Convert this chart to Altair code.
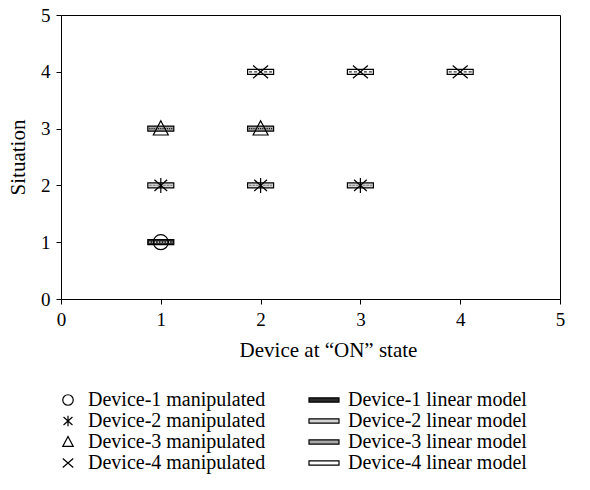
import altair as alt
import pandas as pd

# ---- data ----
man_x = [1, 1, 2, 3, 1, 2, 2, 3, 4]
man_y = [1, 2, 2, 2, 3, 3, 4, 4, 4]
man_device = [1, 2, 2, 2, 3, 3, 4, 4, 4]

manip_names = ["Device-1 manipulated", "Device-2 manipulated",
               "Device-3 manipulated", "Device-4 manipulated"]
model_names = ["Device-1 linear model", "Device-2 linear model",
               "Device-3 linear model", "Device-4 linear model"]

x_ticks = [0, 1, 2, 3, 4, 5]
y_ticks = [0, 1, 2, 3, 4, 5]

# ---- styles ----
shape_paths = [
    "circle",
    "M0,-1L0,1M-0.85,-0.75L0.85,0.75M-0.85,0.75L0.85,-0.75",
    "M0,-1.05L1,0.85L-1,0.85Z",
    "M-1,-0.85L1,0.85M-1,0.85L1,-0.85",
]
model_fills = ["#2a2a2a", "#d4d4d4", "#a8a8a8", "#ffffff"]
pattern_colors = ["#ffffff", "#8a8a8a", "#000000", "#333333"]
pattern_dashes = [[1.2, 1.6], [2.5, 1], [1, 1.2], [3, 2]]
pattern_widths = [1.3, 1.2, 3.2, 1.2]

df = pd.DataFrame({
    "x": man_x,
    "y": man_y,
    "manip": [manip_names[d - 1] for d in man_device],
    "model": [model_names[d - 1] for d in man_device],
})

FONT = "Liberation Serif"

xenc = alt.X("x:Q", title="Device at \u201cON\u201d state",
             scale=alt.Scale(domain=[0, 5], nice=False),
             axis=alt.Axis(values=x_ticks, format="d", labelFlush=False,
                           titleX=267))
yenc = alt.Y("y:Q", title="Situation",
             scale=alt.Scale(domain=[0, 5], nice=False),
             axis=alt.Axis(values=y_ticks, format="d", labelFlush=False))

rects = alt.Chart(df).mark_tick(
    orient="horizontal", size=26, thickness=5, stroke="black",
    strokeWidth=1.2, opacity=1
).encode(
    x=xenc, y=yenc,
    fill=alt.Fill("model:N",
                  scale=alt.Scale(domain=model_names, range=model_fills),
                  legend=alt.Legend(
                      title=None, orient="none", legendX=253, legendY=375,
                      symbolType="M-2,-0.28H2V0.28H-2Z", symbolSize=225,
                      symbolStrokeColor="black", symbolStrokeWidth=1.2,
                      labelOffset=14, rowPadding=1, padding=0,
                  )),
)

patterns = alt.Chart(df).mark_rule(xOffset=-11.5, x2Offset=11.5).encode(
    x="x:Q", x2="x:Q", y="y:Q",
    stroke=alt.Stroke("model:N", scale=alt.Scale(domain=model_names,
                                                 range=pattern_colors),
                      legend=None),
    strokeDash=alt.StrokeDash("model:N", scale=alt.Scale(domain=model_names,
                                                         range=pattern_dashes),
                              legend=None),
    strokeWidth=alt.StrokeWidth("model:N", scale=alt.Scale(domain=model_names,
                                                           range=pattern_widths),
                                legend=None),
)

points = alt.Chart(df).mark_point(
    filled=False, color="black", size=225, strokeWidth=1.2, opacity=1
).encode(
    x=xenc, y=yenc,
    shape=alt.Shape("manip:N",
                    scale=alt.Scale(domain=manip_names, range=shape_paths),
                    legend=alt.Legend(
                        title=None, orient="none", legendX=-3, legendY=375,
                        symbolSize=110, symbolStrokeColor="black",
                        symbolStrokeWidth=1.2, symbolFillColor="transparent",
                        labelOffset=10, rowPadding=1, padding=0,
                    )),
)

chart = alt.layer(rects, patterns, points).resolve_scale(
    stroke="independent", strokeDash="independent", strokeWidth="independent"
).resolve_legend(
    shape="independent", fill="independent"
).properties(
    width=499, height=284,
    autosize=alt.AutoSizeParams(type="none"),
    padding={"left": 53, "top": 7, "right": 22, "bottom": 183},
).configure_view(
    stroke="black", strokeWidth=1
).configure_axis(
    grid=False, domainColor="black", tickColor="black", tickSize=5,
    labelFont=FONT, labelFontSize=19, labelColor="black", labelPadding=6,
    titleFont=FONT, titleFontSize=21, titleFontWeight="normal",
    titleColor="black",
).configure_axisX(titlePadding=10).configure_axisY(titlePadding=12).configure_legend(
    labelFont=FONT, labelFontSize=20, labelColor="black", labelLimit=400,
)

chart.save("out.html", embed_options={"renderer": "svg", "actions": False})
